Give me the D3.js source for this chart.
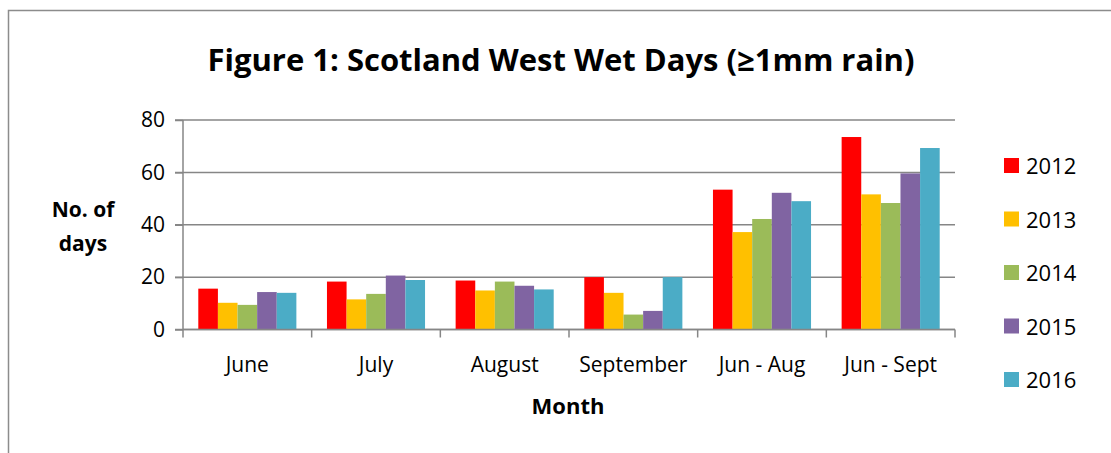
<!DOCTYPE html>
<html><head><meta charset="utf-8">
<script src="https://cdn.jsdelivr.net/npm/d3@7"></script>
<style>body{margin:0;background:#fff}svg{display:block}text{font-family:"Open Sans",Lato,sans-serif;fill:#000}</style>
</head><body><svg id="c" width="1111" height="453"></svg>
<script>
const categories = ["June","July","August","September","Jun - Aug","Jun - Sept"];
const seriesNames = ["2012","2013","2014","2015","2016"];
const v2012 = [15.6,18.3,18.7,20.0,53.4,73.5];
const v2013 = [10.2,11.5,14.9,14.0,37.2,51.6];
const v2014 = [9.4,13.6,18.3,5.7,42.2,48.3];
const v2015 = [14.3,20.6,16.7,7.1,52.2,59.6];
const v2016 = [14.0,18.9,15.3,20.0,49.0,69.3];
const yTicks = [0,20,40,60,80];
const colors = ["#FF0000","#FFC000","#9BBB59","#8064A2","#4BACC6"];
const seriesVals = [v2012,v2013,v2014,v2015,v2016];

const svg = d3.select("#c");
svg.append("path").attr("d","M8.5,453 V10.5 H1111").attr("fill","none").attr("stroke","#8c8c8c").attr("stroke-width",1.5);

const x0 = d3.scaleBand().domain(categories).range([183,955]).padding(0);
const x1 = d3.scaleBand().domain(seriesNames).range([0,x0.bandwidth()]).paddingInner(0).paddingOuter(0.78);
const y = d3.scaleLinear().domain([0,80]).range([329.5,120]);

svg.append("g").selectAll("line").data(yTicks).join("line")
  .attr("x1",175).attr("x2",955).attr("y1",d=>y(d)).attr("y2",d=>y(d))
  .attr("stroke","#868686").attr("stroke-width",1.5);

const g = svg.append("g");
categories.forEach((c,i)=>{
  seriesNames.forEach((s,j)=>{
    const v = seriesVals[j][i];
    g.append("rect").attr("x",x0(c)+x1(s)).attr("width",x1.bandwidth())
      .attr("y",y(v)).attr("height",y(0)-y(v)).attr("fill",colors[j]);
  });
});

const yAxis = svg.append("g").attr("transform","translate(183,0)")
  .call(d3.axisLeft(y).tickValues(yTicks).tickSize(8).tickPadding(10));
yAxis.select(".domain").attr("stroke","#868686").attr("stroke-width",1.5).attr("d","M0,120V329.5");
yAxis.selectAll(".tick line").attr("stroke","#868686").attr("stroke-width",1.5);
yAxis.selectAll(".tick text").attr("font-size",21).attr("font-family","Open Sans").attr("fill","#000");

const xTickVals = categories.map(c=>x0(c)).concat([955]);
svg.append("line").attr("x1",183).attr("x2",955).attr("y1",y(0)).attr("y2",y(0)).attr("stroke","#868686").attr("stroke-width",1.5);
svg.append("g").selectAll("line").data(xTickVals).join("line")
  .attr("x1",d=>d).attr("x2",d=>d).attr("y1",y(0)).attr("y2",y(0)+8).attr("stroke","#868686").attr("stroke-width",1.5);
svg.append("g").selectAll("text").data(categories).join("text")
  .attr("x",d=>x0(d)+x0.bandwidth()/2).attr("y",372).attr("text-anchor","middle")
  .attr("font-size",21).text(d=>d);

svg.append("text").attr("x",568).attr("y",414).attr("text-anchor","middle").attr("font-size",22).attr("font-weight","bold").text("Month");
svg.append("text").attr("x",83).attr("y",217).attr("text-anchor","middle").attr("font-size",21).attr("font-weight","bold").text("No. of");
svg.append("text").attr("x",83).attr("y",251).attr("text-anchor","middle").attr("font-size",21).attr("font-weight","bold").text("days");

svg.append("text").attr("x",561).attr("y",71).attr("text-anchor","middle").attr("font-size",30).attr("font-weight","bold")
  .attr("textLength",707).attr("lengthAdjust","spacingAndGlyphs")
  .text("Figure 1: Scotland West Wet Days (≥1mm rain)");

const lg = svg.append("g");
seriesNames.forEach((s,j)=>{
  const yy = 158 + j*53.5;
  lg.append("rect").attr("x",1004).attr("y",yy).attr("width",15).attr("height",15).attr("fill",colors[j]);
  lg.append("text").attr("x",1026).attr("y",yy+16).attr("font-size",22).text(s);
});
</script></body></html>
